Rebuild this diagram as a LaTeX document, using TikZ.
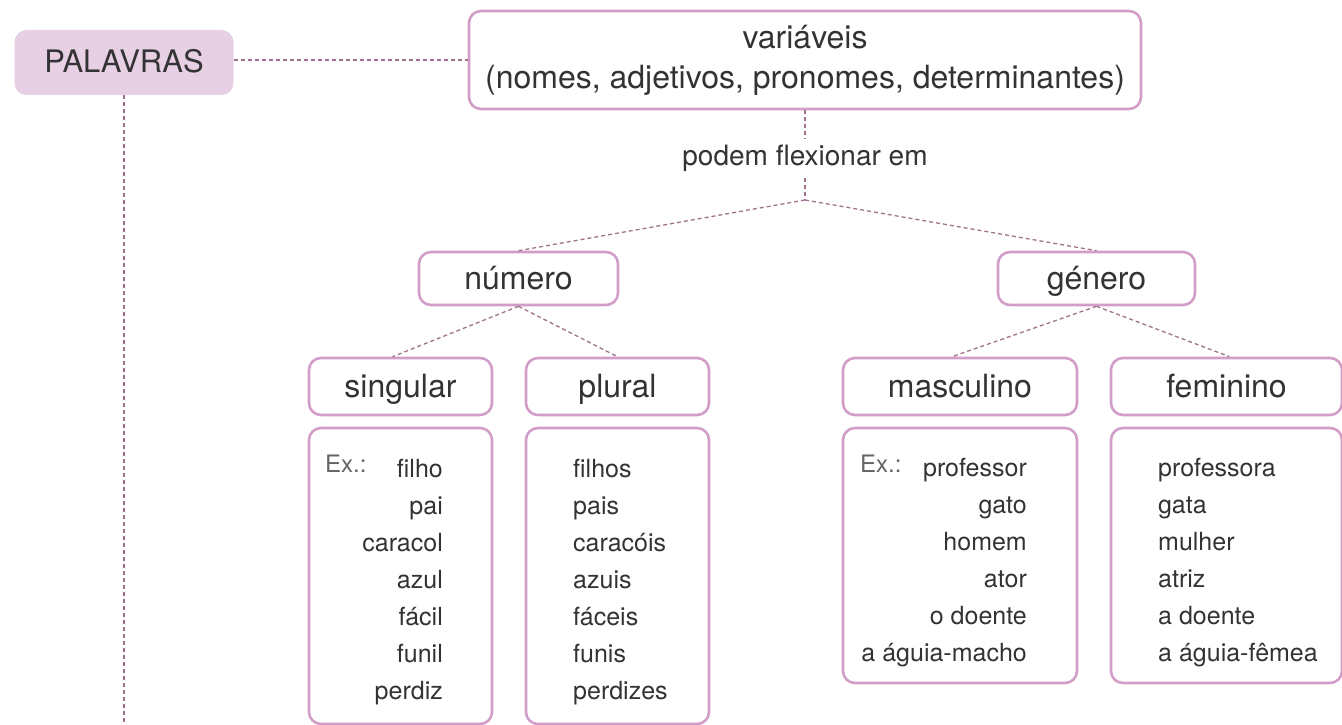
\documentclass[tikz,border=0pt]{standalone}
\usepackage{fontspec}
\setmainfont{TeX Gyre Heros}
\usetikzlibrary{calc}
\definecolor{boxpink}{HTML}{D29DC8}
\definecolor{fillpink}{HTML}{E8D0E4}
\definecolor{linecol}{HTML}{A0728F}
\definecolor{txt}{HTML}{333333}
\definecolor{extxt}{HTML}{666666}
\begin{document}
\begin{tikzpicture}[x=1pt,y=-1pt,
  box/.style={draw=boxpink, line width=2.6pt, rounded corners=12pt, fill=white, text=txt, inner sep=0pt, font=\fontsize{32}{40}\selectfont, align=center},
  lab/.style={text height=26pt, text depth=5pt},
  conn/.style={draw=linecol, line width=1.3pt, dash pattern=on 4pt off 3pt},
  word/.style={text=txt, inner sep=0pt, font=\fontsize{25}{30}\selectfont},
  exlabel/.style={text=extxt, inner sep=0pt, font=\fontsize{24}{30}\selectfont}]
\clip (0,0) rectangle (1342,725);
\fill[white] (0,0) rectangle (1342,725);

% nodes
\node[fill=fillpink, rounded corners=12pt, minimum width=219, minimum height=65, inner sep=0pt, text=txt, font=\fontsize{31}{40}\selectfont, lab] (palavras) at (124,62.5) {PALAVRAS};
\node[box, minimum width=672, minimum height=98] (var) at (805,60) {variáveis\\(nomes, adjetivos, pronomes, determinantes)};
\node[text=txt, inner sep=6pt, font=\fontsize{28}{34}\selectfont] (flex) at (805,158) {podem flexionar em};
\coordinate (branch) at (805,200);

\node[box, lab, minimum width=199, minimum height=53] (numero) at (518.5,278.5) {número};
\node[box, lab, minimum width=197, minimum height=53] (genero) at (1096.5,278.5) {género};

\node[box, lab, minimum width=183, minimum height=57] (singular) at (400.5,386.5) {singular};
\node[box, lab, minimum width=183, minimum height=57] (plural) at (617.5,386.5) {plural};
\node[box, lab, minimum width=234, minimum height=57] (masculino) at (960,386.5) {masculino};
\node[box, lab, minimum width=231, minimum height=57] (feminino) at (1226.5,386.5) {feminino};

\node[box, minimum width=183, minimum height=296] (singex) at (400.5,576) {};
\node[box, minimum width=183, minimum height=296] (pluralex) at (617.5,576) {};
\node[box, minimum width=234, minimum height=255] (mascex) at (960,555.5) {};
\node[box, minimum width=231, minimum height=255] (femex) at (1226.5,555.5) {};

% example words
\node[exlabel, anchor=base west] (ex1) at (325,472) {Ex.:};
\node[exlabel, anchor=base west] (ex2) at (860,472) {Ex.:};
\foreach \w [count=\i] in {filho,pai,caracol,azul,fácil,funil,perdiz}
  \node[word, anchor=base east] (s\i) at (443,440+37*\i) {\w};
\foreach \w [count=\i] in {filhos,pais,caracóis,azuis,fáceis,funis,perdizes}
  \node[word, anchor=base west] (p\i) at (573,440+37*\i) {\w};
\foreach \w [count=\i] in {professor,gato,homem,ator,o doente,a águia-macho}
  \node[word, anchor=base east] (m\i) at (1027,439+37*\i) {\w};
\foreach \w [count=\i] in {professora,gata,mulher,atriz,a doente,a águia-fêmea}
  \node[word, anchor=base west] (f\i) at (1158,439+37*\i) {\w};

% connectors
\coordinate (pbot) at (124,730);
\draw[conn] (palavras.east |- var.west) -- (var.west);
\draw[conn] (palavras.south) -- (pbot);
\draw[conn] (var.south) -- (flex.north);
\draw[conn] (flex.south) -- (branch);
\draw[conn] (branch) -- (numero.north);
\draw[conn] (branch) -- (genero.north);
\draw[conn] (numero.south) -- ($(singular.north)+(-8,0)$);
\draw[conn] (numero.south) -- (plural.north);
\draw[conn] (genero.south) -- ($(masculino.north)+(-8,0)$);
\draw[conn] (genero.south) -- ($(feminino.north)+(3,0)$);
\end{tikzpicture}
\end{document}
